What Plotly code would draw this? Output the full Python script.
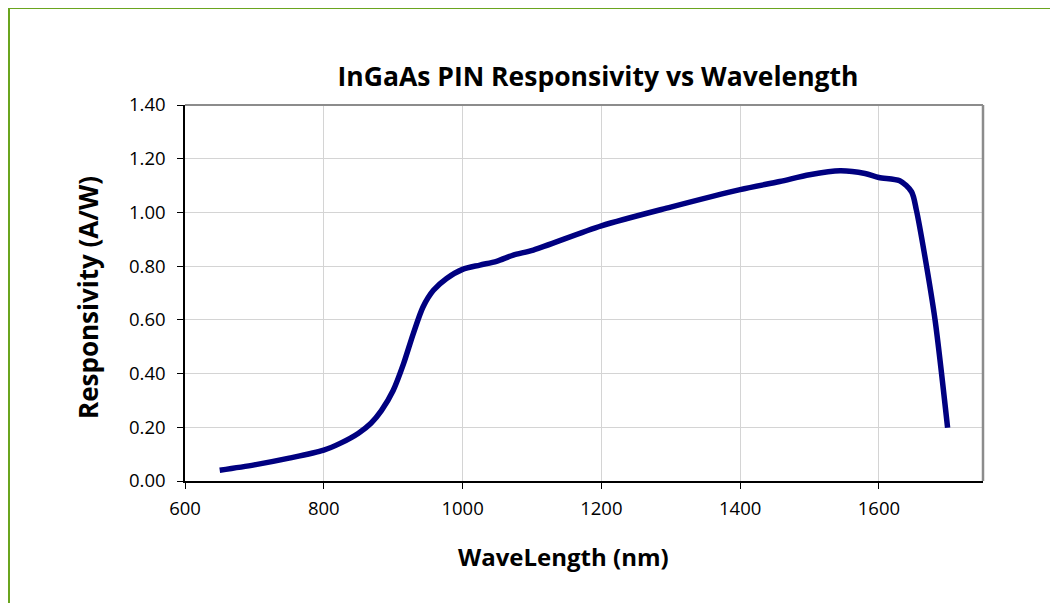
import plotly.graph_objects as go

wavelength_nm = [650, 700, 750, 800, 825, 850, 868, 883, 900, 915, 929, 943, 958, 977, 1000, 1025, 1049,
                 1073, 1102, 1200, 1300, 1400, 1457, 1500, 1544, 1580, 1600, 1630, 1647, 1654, 1666, 1681,
                 1699]
responsivity = [0.04, 0.06, 0.085, 0.115, 0.142, 0.178, 0.215, 0.262, 0.337, 0.437, 0.549, 0.648, 0.71,
                0.754, 0.788, 0.804, 0.818, 0.841, 0.86, 0.95, 1.02, 1.085, 1.115, 1.14, 1.155, 1.145,
                1.13, 1.118, 1.077, 1.009, 0.84, 0.598, 0.198]
x_ticks = [600, 800, 1000, 1200, 1400, 1600]

title_text = "InGaAs PIN Responsivity vs Wavelength"
x_title = "WaveLength (nm)"
y_title = "Responsivity (A/W)"

FONT = "Open Sans"

fig = go.Figure()
fig.add_trace(go.Scatter(
    x=wavelength_nm, y=responsivity, mode="lines",
    line=dict(color="#000080", width=5.5, shape="spline", smoothing=0.8),
    hoverinfo="x+y", showlegend=False,
))

# page body has an 8px margin; figure coordinates = page coordinates - 8
W, H = 1050, 595
L, R, T, B = 177, 75, 97, 122
pw, ph = W - L - R, H - T - B


def px(x):
    return (x - L) / pw


def py(y):
    return (H - B - y) / ph


fig.update_layout(
    width=W, height=H,
    margin=dict(l=L, r=R, t=T, b=B),
    paper_bgcolor="white", plot_bgcolor="white",
    font=dict(family=FONT, size=18, color="black"),
    title=dict(text=title_text, x=590 / W, xanchor="center", y=1 - 69 / H, yanchor="middle",
               font=dict(family=FONT, size=26.5, color="black", weight="bold")),
    xaxis=dict(range=[600, 1750], tickvals=x_ticks, showgrid=True, gridcolor="#d4d4d4", gridwidth=1,
               showline=True, linecolor="black", linewidth=1.5, ticks="outside", ticklen=6,
               tickcolor="black", tickfont=dict(size=18.5), zeroline=False, ticklabelstandoff=4),
    yaxis=dict(range=[0, 1.4], dtick=0.2, tickformat=".2f", showgrid=True, gridcolor="#d4d4d4",
               gridwidth=1, showline=True, linecolor="black", linewidth=1.5, ticks="outside",
               ticklen=6, tickcolor="black", tickfont=dict(size=18.5), zeroline=False,
               ticklabelstandoff=8),
    annotations=[
        dict(text=x_title, xref="paper", yref="paper", x=px(555), y=py(548), xanchor="center",
             yanchor="middle", showarrow=False, font=dict(family=FONT, size=24, weight="bold")),
        dict(text=y_title, xref="paper", yref="paper", x=px(80), y=py(290), xanchor="center",
             yanchor="middle", showarrow=False, textangle=-90,
             font=dict(family=FONT, size=26, weight="bold")),
    ],
    shapes=[
        dict(type="line", xref="paper", yref="paper", x0=0, x1=1, y0=1, y1=1,
             line=dict(color="#8c8c8c", width=2)),
        dict(type="line", xref="paper", yref="paper", x0=1, x1=1, y0=0, y1=1,
             line=dict(color="#8c8c8c", width=2.5)),
        dict(type="rect", xref="paper", yref="paper", x0=px(1), x1=px(1047), y0=py(0), y1=py(620),
             line=dict(color="#6aa51e", width=2), fillcolor="rgba(0,0,0,0)", layer="above"),
    ],
)

fig.write_html("out.html")
